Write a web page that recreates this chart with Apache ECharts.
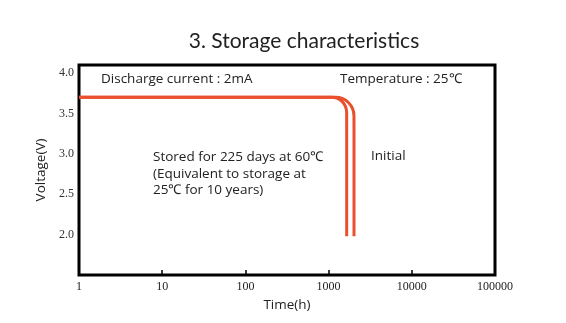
<!DOCTYPE html>
<html><head><meta charset="utf-8">
<script src="https://cdn.jsdelivr.net/npm/echarts@6/dist/echarts.min.js"></script>
<style>html,body{margin:0;padding:0;background:#fff}#c{width:566px;height:323px}</style>
</head><body><div id="c"></div>
<script>
// Stored for 225 days at 60°C: [time (h), voltage (V)]
const storedCurve = [[1,3.70],[500,3.70],[1089,3.70],[1276,3.686],[1459,3.646],[1596,3.585],[1648,3.514],[1650,3.0],[1650,1.98]];
// Initial: [time (h), voltage (V)]
const initialCurve = [[1,3.70],[500,3.70],[1216,3.70],[1476,3.683],[1742,3.633],[1941,3.56],[2018,3.473],[2020,3.0],[2020,1.98]];
const yTicks = {min:1.5, max:4.1, interval:0.5};
const xRange = {min:1, max:100000};
const titleText = '3. Storage characteristics';
const notes = ['Discharge current : 2mA','Temperature : 25℃','Stored for 225 days at 60℃','(Equivalent to storage at','25℃ for 10 years)','Initial'];

const sans = '"Open Sans", Lato, sans-serif';
const serif = '"Liberation Serif", "DejaVu Serif", serif';
const red = '#e8502e';
const chart = echarts.init(document.getElementById('c'));
chart.setOption({
  animation:false,
  title:{text:titleText,left:299,top:26,textAlign:'center',textStyle:{fontFamily:'Lato, sans-serif',fontSize:21,fontWeight:'normal',color:'#222'}},
  grid:{left:79,right:71,top:65,bottom:48,show:true,borderColor:'#000',borderWidth:3,backgroundColor:'transparent'},
  xAxis:{type:'log',logBase:10,min:xRange.min,max:xRange.max,
    name:'Time(h)',nameLocation:'middle',nameGap:21,nameTextStyle:{fontFamily:sans,fontSize:13.5,color:'#222'},
    axisLine:{show:false},axisTick:{show:true,inside:true,length:5,lineStyle:{color:'#000',width:1.5}},
    axisLabel:{fontFamily:serif,fontSize:12,color:'#222',margin:6,formatter:v=>String(Math.round(v))},
    splitLine:{show:false},minorTick:{show:false}},
  yAxis:{type:'value',min:yTicks.min,max:yTicks.max,interval:yTicks.interval,
    name:'Voltage(V)',nameLocation:'middle',nameGap:21,nameTextStyle:{fontFamily:sans,fontSize:13.5,color:'#222'},
    axisLine:{show:false},axisTick:{show:false},splitLine:{show:false},
    axisLabel:{fontFamily:serif,fontSize:12,color:'#333',margin:5,showMaxLabel:false,
      formatter:v=>(v<=yTicks.min||v>4.05)?'':v.toFixed(1)}},
  graphic:[
    {type:'text',left:101,top:72,style:{text:notes[0],font:'13.5px '+sans,fill:'#222'}},
    {type:'text',left:340,top:72,style:{text:notes[1],font:'13.5px '+sans,fill:'#222'}},
    {type:'text',left:153,top:149,style:{text:notes[2]+'\n'+notes[3]+'\n'+notes[4],font:'13.5px '+sans,fill:'#222',lineHeight:16.5}},
    {type:'text',left:371,top:149,style:{text:notes[5],font:'13.5px '+sans,fill:'#222'}}
  ],
  series:[
    {type:'line',data:storedCurve,showSymbol:false,smooth:0.3,lineStyle:{color:red,width:3},z:3},
    {type:'line',data:initialCurve,showSymbol:false,smooth:0.3,lineStyle:{color:red,width:3},z:2}
  ]
});
</script></body></html>
